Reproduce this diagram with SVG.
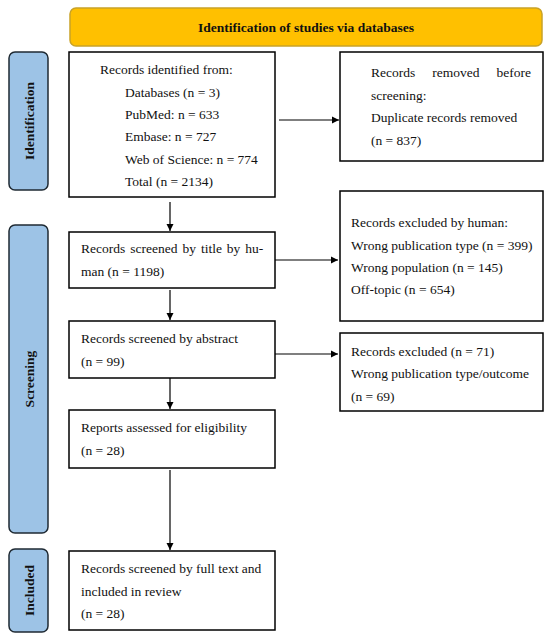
<svg xmlns="http://www.w3.org/2000/svg" width="550" height="637" viewBox="0 0 550 637">
<defs>
<style>
.box{fill:#fff;stroke:#000;stroke-width:1.5}
.side{fill:#9DC3E6;stroke:#1f2a33;stroke-width:1.5}
.hdr{fill:#FFC000;stroke:#C9A227;stroke-width:1.5}
.t{font-family:"Liberation Serif","Times New Roman",serif;font-size:13.5px;fill:#111}
.b{font-family:"Liberation Serif","Times New Roman",serif;font-size:13.5px;font-weight:bold;fill:#111}
.c{stroke:#000;stroke-width:1.2;fill:none}
</style>
<marker id="ah" markerWidth="8" markerHeight="8" refX="7" refY="4" orient="auto" markerUnits="userSpaceOnUse">
<path d="M0,0.5 L7,4 L0,7.5 Z" fill="#000"/>
</marker>
</defs>
<g id="header">
<rect class="hdr" x="70" y="8" width="472" height="38" rx="6"/>
<text class="b" x="306" y="32" text-anchor="middle">Identification of studies via databases</text>
</g>
<g id="side-identification">
<rect class="side" x="9" y="52" width="39" height="138" rx="6"/>
<text class="b" transform="translate(33.5,121) rotate(-90)" text-anchor="middle">Identification</text>
</g>
<g id="side-screening">
<rect class="side" x="9" y="225" width="39" height="308" rx="6"/>
<text class="b" transform="translate(33.5,379) rotate(-90)" text-anchor="middle">Screening</text>
</g>
<g id="side-included">
<rect class="side" x="9" y="549" width="39" height="83" rx="6"/>
<text class="b" transform="translate(33.5,590.5) rotate(-90)" text-anchor="middle">Included</text>
</g>
<g id="records-identified">
<rect class="box" x="69" y="52" width="206" height="145"/>
<text class="t" x="100" y="74">Records identified from:</text>
<text class="t" x="125" y="97">Databases (n = 3)</text>
<text class="t" x="125" y="119">PubMed: n = 633</text>
<text class="t" x="125" y="141">Embase: n = 727</text>
<text class="t" x="125" y="164">Web of Science: n = 774</text>
<text class="t" x="125" y="186">Total (n = 2134)</text>
</g>
<g id="records-removed">
<rect class="box" x="340" y="52" width="203" height="109"/>
<text class="t" x="371" y="77" word-spacing="13.6">Records removed before</text>
<text class="t" x="371" y="100">screening:</text>
<text class="t" x="371" y="122">Duplicate records removed</text>
<text class="t" x="371" y="145">(n = 837)</text>
</g>
<g id="screened-title">
<rect class="box" x="69" y="232" width="206" height="56"/>
<text class="t" x="81" y="253" word-spacing="1.6">Records screened by title by hu-</text>
<text class="t" x="81" y="276">man (n = 1198)</text>
</g>
<g id="excluded-human">
<rect class="box" x="340" y="191" width="203" height="130"/>
<text class="t" x="351" y="227">Records excluded by human:</text>
<text class="t" x="351" y="250">Wrong publication type (n = 399)</text>
<text class="t" x="351" y="272">Wrong population (n = 145)</text>
<text class="t" x="351" y="294">Off-topic (n = 654)</text>
</g>
<g id="screened-abstract">
<rect class="box" x="69" y="321" width="206" height="57"/>
<text class="t" x="81" y="343">Records screened by abstract</text>
<text class="t" x="81" y="366">(n = 99)</text>
</g>
<g id="excluded-abstract">
<rect class="box" x="340" y="333" width="203" height="78"/>
<text class="t" x="351" y="356">Records excluded (n = 71)</text>
<text class="t" x="351" y="378">Wrong publication type/outcome</text>
<text class="t" x="351" y="401">(n = 69)</text>
</g>
<g id="eligibility">
<rect class="box" x="69" y="410" width="206" height="58"/>
<text class="t" x="81" y="432">Reports assessed for eligibility</text>
<text class="t" x="81" y="455">(n = 28)</text>
</g>
<g id="included-review">
<rect class="box" x="69" y="551" width="206" height="79"/>
<text class="t" x="81" y="573">Records screened by full text and</text>
<text class="t" x="81" y="596">included in review</text>
<text class="t" x="81" y="618">(n = 28)</text>
</g>
<g id="connectors">
<line class="c" x1="279" y1="120" x2="339" y2="120" marker-end="url(#ah)"/>
<line class="c" x1="170" y1="202" x2="170" y2="231" marker-end="url(#ah)"/>
<line class="c" x1="275" y1="260" x2="338" y2="260" marker-end="url(#ah)"/>
<line class="c" x1="170" y1="290" x2="170" y2="320" marker-end="url(#ah)"/>
<line class="c" x1="275" y1="354" x2="338" y2="354" marker-end="url(#ah)"/>
<line class="c" x1="170" y1="378" x2="170" y2="409" marker-end="url(#ah)"/>
<line class="c" x1="170" y1="470" x2="170" y2="550" marker-end="url(#ah)"/>
</g>
</svg>
